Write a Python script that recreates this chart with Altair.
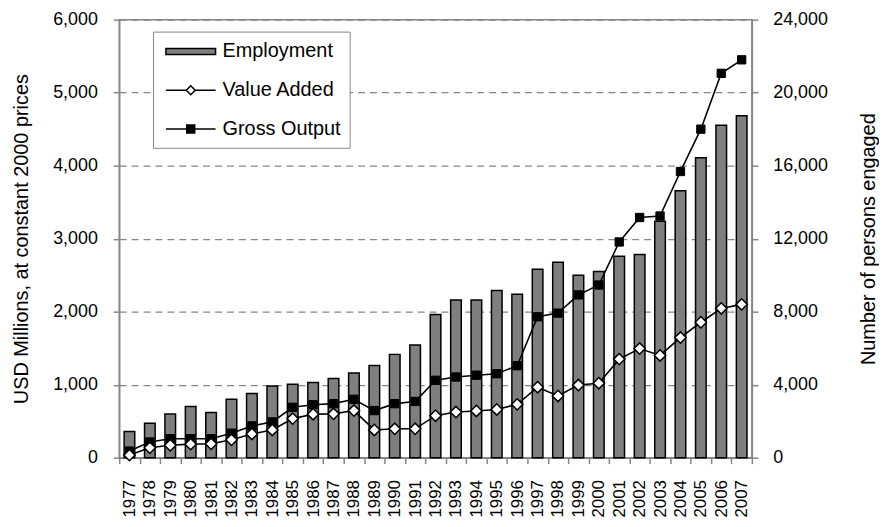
import altair as alt
import pandas as pd

years = [str(y) for y in range(1977, 2008)]

employment = [1430, 1880, 2390, 2800, 2480, 3200, 3520, 3930, 4020, 4120,
              4340, 4640, 5050, 5660, 6180, 7840, 8640, 8640, 9160, 8960,
              10320, 10710, 10000, 10200, 11040, 11130, 12950, 14620, 16440, 18220, 18730]

gross_output = [90, 215, 260, 260, 260, 335, 435, 490, 690, 725,
                740, 800, 645, 740, 770, 1060, 1105, 1130, 1150, 1260,
                1930, 1980, 2230, 2365, 2955, 3290, 3310, 3920, 4500, 5265, 5450]

value_added = [35, 135, 170, 185, 190, 245, 325, 380, 535, 595,
               600, 645, 380, 395, 395, 575, 625, 640, 660, 730,
               965, 845, 995, 1020, 1350, 1495, 1400, 1645, 1855, 2045, 2100]

series_names = ["Employment", "Value Added", "Gross Output"]
left_ticks = [0, 1000, 2000, 3000, 4000, 5000, 6000]
right_ticks = [0, 4000, 8000, 12000, 16000, 20000, 24000]

df = pd.DataFrame({"year": years, "employment": employment,
                   "go": gross_output, "va": value_added})
legend_df = pd.DataFrame({"series": series_names})

FONT = "Liberation Sans"
AX = "#868686"

x_enc = alt.X("year:N", sort=years,
              scale=alt.Scale(paddingInner=0, paddingOuter=0),
              axis=alt.Axis(title=None, labelAngle=270, labelFontSize=17,
                            labelFont=FONT, labelColor="black", labelPadding=16,
                            tickBand="extent", tickColor=AX, tickSize=6,
                            tickWidth=1.5, domainColor=AX, domainWidth=1.5,
                            grid=False))

left_scale = alt.Scale(domain=[0, 6000], nice=False)
left_axis = alt.Axis(values=left_ticks, format=",.0f", title="USD Millions, at constant 2000 prices",
                     titleFont=FONT, titleFontSize=20, titleFontWeight="normal",
                     titleColor="black", titlePadding=21,
                     labelFont=FONT, labelFontSize=18, labelColor="black", labelPadding=16,
                     tickColor=AX, tickSize=6, tickWidth=1.5, domainColor=AX, domainWidth=1.5,
                     grid=True, gridColor=AX, gridDash=[7, 5], gridWidth=1.3)

right_axis = alt.Axis(orient="right", values=right_ticks, format=",.0f",
                      title="Number of persons engaged", titleAngle=270, titleBaseline="top",
                      titleFont=FONT, titleFontSize=20, titleFontWeight="normal",
                      titleColor="black", titlePadding=31,
                      labelFont=FONT, labelFontSize=18, labelColor="black", labelPadding=15,
                      tickColor=AX, tickSize=6, tickWidth=1.5, domainColor=AX, domainWidth=1.5,
                      grid=False)

bars = alt.Chart(df).mark_bar(color="#7f7f7f", stroke="black", strokeWidth=1.5,
                              width={"band": 0.52}).encode(
    x=x_enc,
    y=alt.Y("employment:Q", scale=alt.Scale(domain=[0, 24000], nice=False), axis=right_axis),
)

go_line = alt.Chart(df).mark_line(color="black", strokeWidth=1.6).encode(
    x=x_enc, y=alt.Y("go:Q", scale=left_scale, axis=left_axis))
va_line = alt.Chart(df).mark_line(color="black", strokeWidth=1.6).encode(
    x=x_enc, y=alt.Y("va:Q", scale=left_scale, axis=left_axis))
go_pts = alt.Chart(df).mark_point(shape="square", size=70, filled=True, fill="black",
                                  stroke="black", strokeWidth=1, opacity=1).encode(
    x=x_enc, y=alt.Y("go:Q", scale=left_scale, axis=left_axis))
va_pts = alt.Chart(df).mark_point(shape="diamond", size=130, filled=True, fill="white",
                                  stroke="black", strokeWidth=1.5, opacity=1).encode(
    x=x_enc, y=alt.Y("va:Q", scale=left_scale, axis=left_axis))

left = alt.layer(go_line, va_line, go_pts, va_pts)

path_bar = "M-2.5,-0.3L2.5,-0.3L2.5,0.3L-2.5,0.3Z"
path_diamond = "M-2.5,0L-0.45,0M0.45,0L2.5,0M0,-0.45L0.45,0L0,0.45L-0.45,0Z"
path_square = "M-2.5,0L2.5,0M-0.4,-0.4L0.4,-0.4L0.4,0.4L-0.4,0.4Z"

leg = alt.Legend(title=None, orient="none", legendX=34, legendY=12,
                 strokeColor=AX, fillColor="white", padding=9,
                 symbolSize=400, symbolStrokeWidth=1.5,
                 symbolOpacity=1, symbolOffset=18, labelOffset=21,
                 labelFont=FONT, labelFontSize=20, labelColor="black",
                 rowPadding=18)

legend_layer = alt.Chart(legend_df).mark_point(opacity=0, filled=True, strokeWidth=1.5).encode(
    shape=alt.Shape("series:N", scale=alt.Scale(domain=series_names,
                                                range=[path_bar, path_diamond, path_square]),
                    legend=leg),
    fill=alt.Fill("series:N", scale=alt.Scale(domain=series_names,
                                              range=["#7f7f7f", "white", "black"]),
                  legend=leg),
    stroke=alt.Stroke("series:N", scale=alt.Scale(domain=series_names,
                                                  range=["black", "black", "black"]),
                      legend=leg),
)

chart = alt.layer(bars, left, legend_layer).resolve_scale(y="independent").properties(
    width=637, height=441,
    autosize=alt.AutoSizeParams(type="none"),
    padding={"left": 112, "top": 10, "right": 128, "bottom": 60},
).configure_view(stroke=AX, strokeWidth=1.5)

chart.save("out.html", embed_options={"renderer": "svg", "actions": False})
